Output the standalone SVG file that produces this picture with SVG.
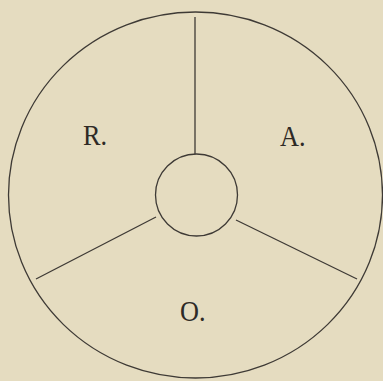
<svg xmlns="http://www.w3.org/2000/svg" width="383" height="381" viewBox="0 0 383 381">
<style>
.ln{fill:none;stroke:#3e3a35;stroke-width:1.3}
.lb{font-family:"Liberation Serif","DejaVu Serif",serif;font-size:25px;fill:#2e2a26}
</style>
<rect width="383" height="381" fill="#e5dcc0"/>
<g id="outer"><ellipse class="ln" cx="195.5" cy="195" rx="187" ry="183"/></g>
<g id="center"><circle class="ln" cx="196.5" cy="195" r="41"/></g>
<g id="connectors">
<line class="ln" x1="195" y1="17" x2="195" y2="154"/>
<line class="ln" x1="36" y1="279" x2="156" y2="217"/>
<line class="ln" x1="236" y1="220" x2="357" y2="279"/>
</g>
<g id="R"><text class="lb" transform="translate(83,145) scale(1.05,1.2)">R.</text></g>
<g id="A"><text class="lb" transform="translate(280,146) scale(1.05,1.2)">A.</text></g>
<g id="O"><text class="lb" transform="translate(180,321) scale(1.05,1.2)">O.</text></g>
</svg>
